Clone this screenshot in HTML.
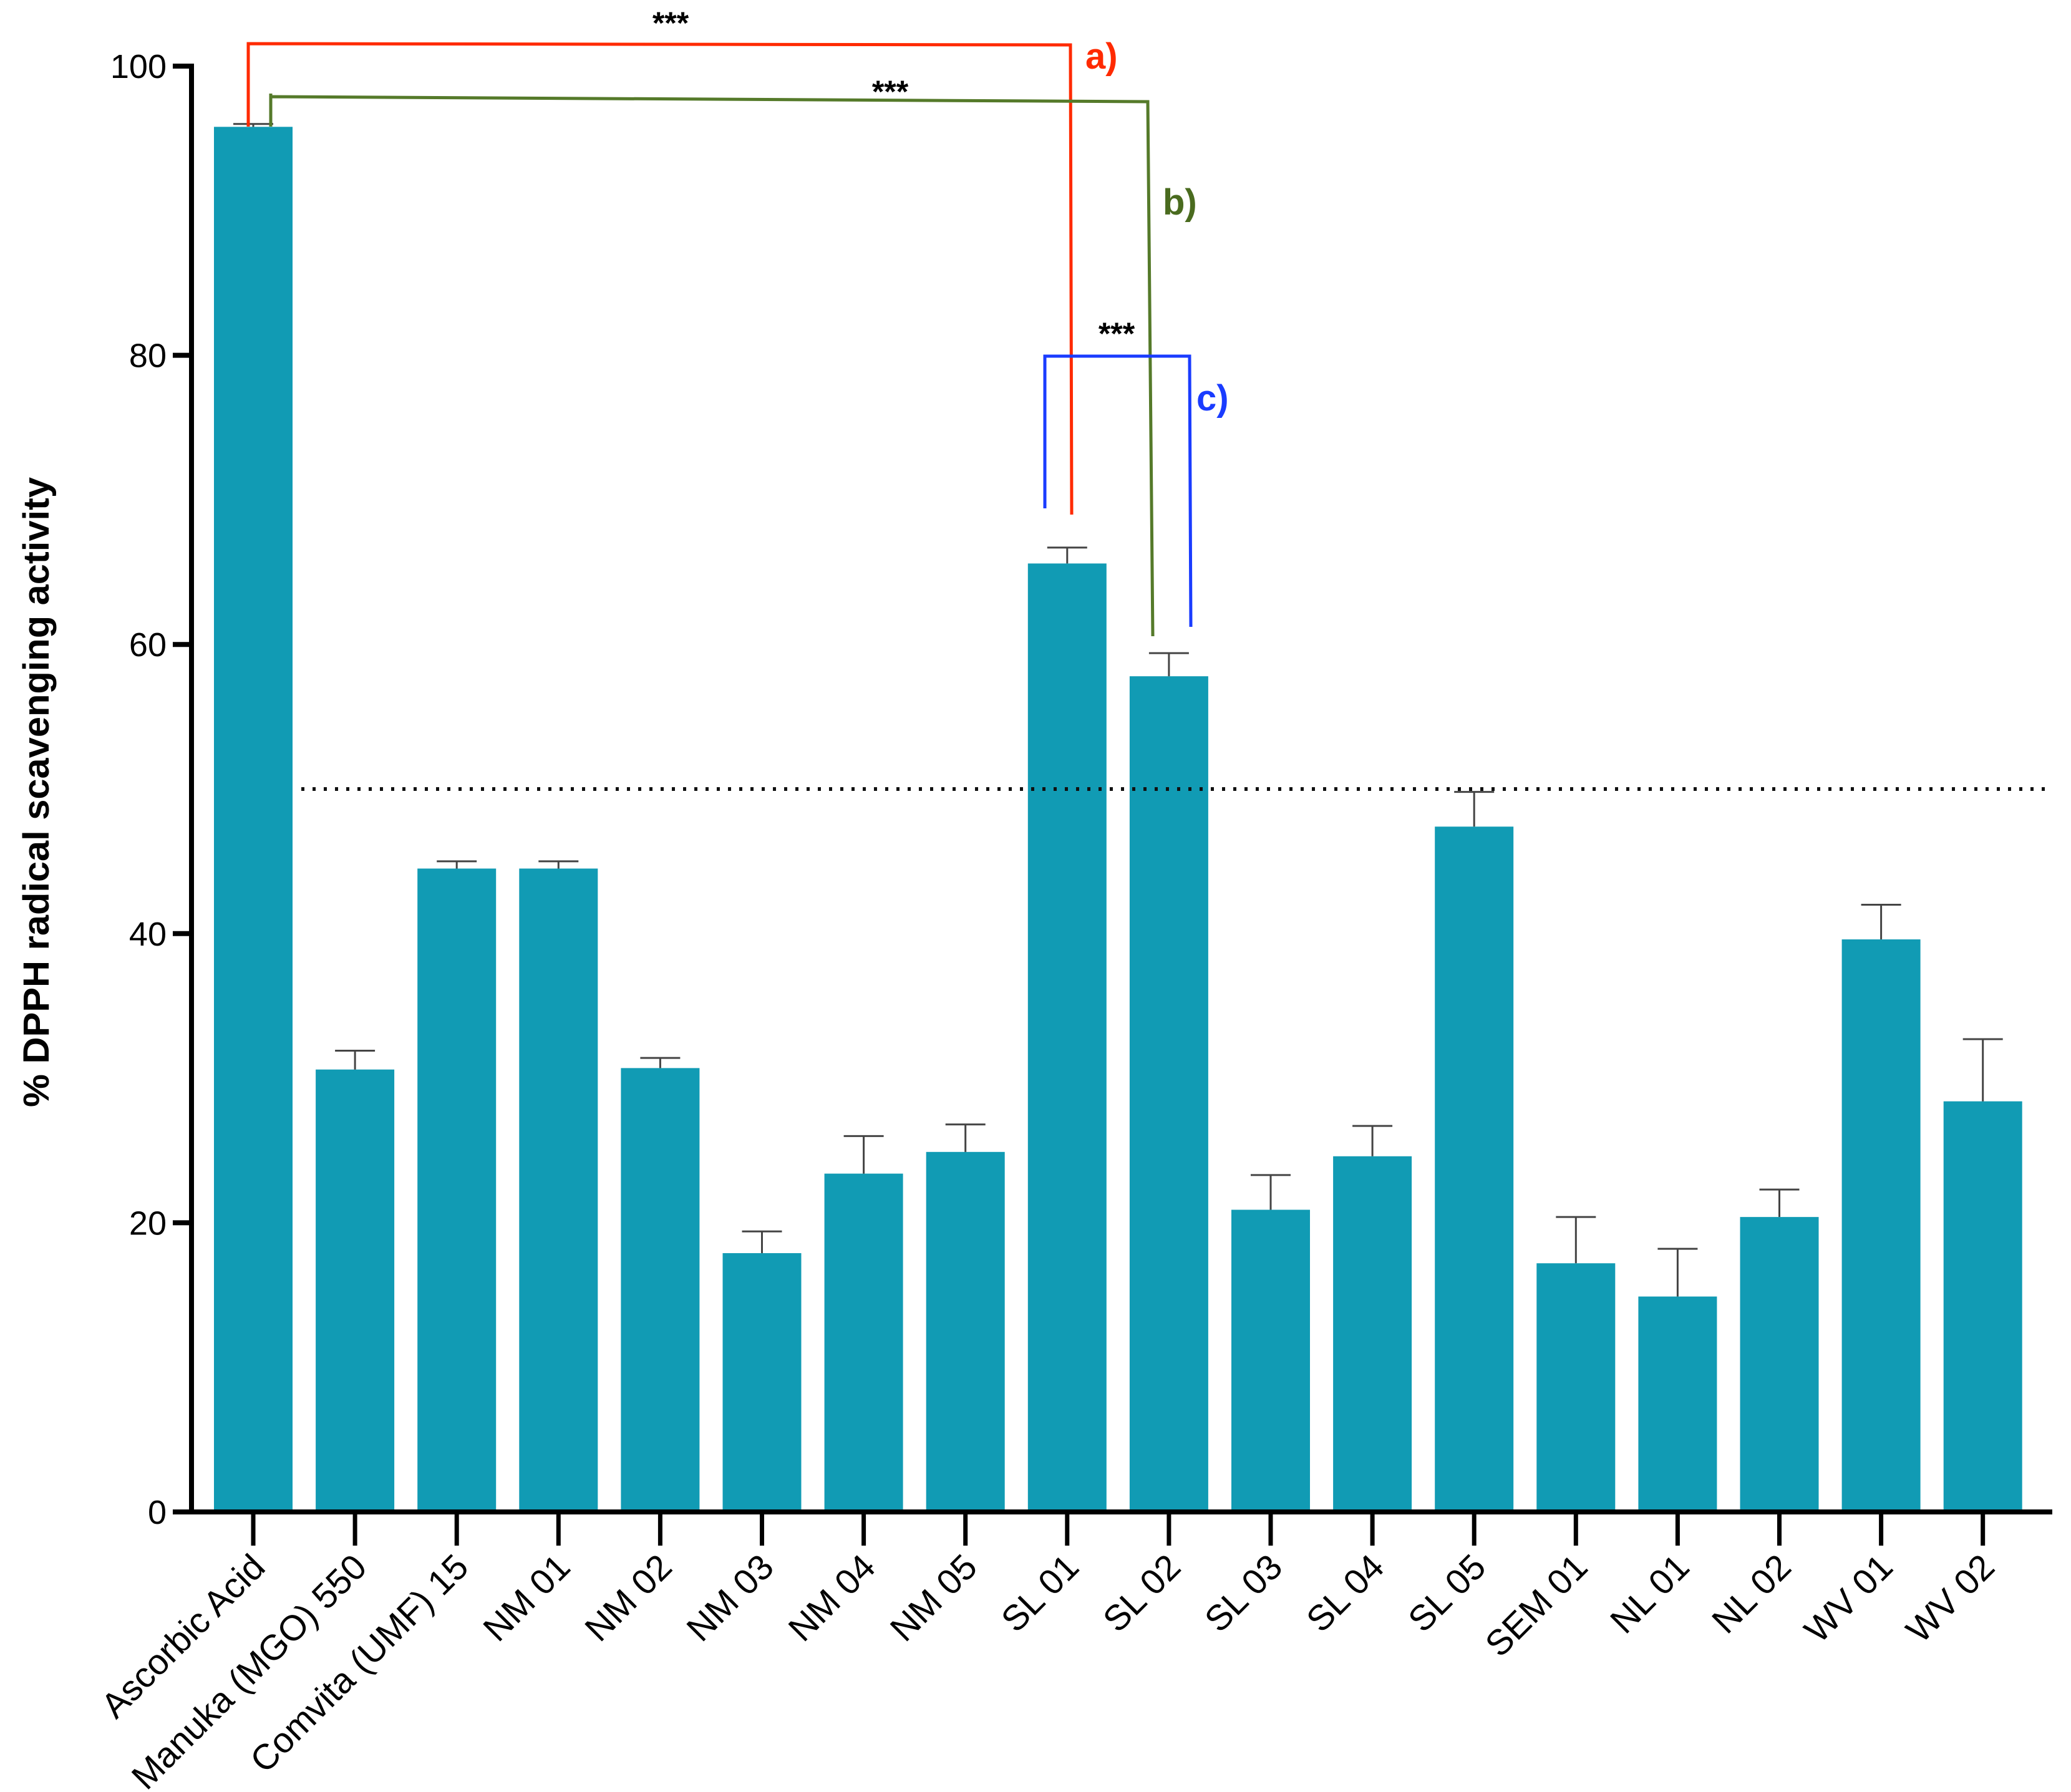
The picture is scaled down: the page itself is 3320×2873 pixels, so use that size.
<!DOCTYPE html>
<html><head><meta charset="utf-8"><style>
html,body{margin:0;padding:0;background:#fff}
svg{display:block}
text{font-family:"Liberation Sans",Arial,sans-serif}
</style></head><body>
<svg id="chart" width="3320" height="2873" viewBox="0 0 3320 2873" xmlns="http://www.w3.org/2000/svg">
<g id="annot">
  <polyline points="398,203 398,70 1716,72 1718,825" fill="none" stroke="#ff2a00" stroke-width="5"/>
  <text x="1075" y="54" font-size="50" font-weight="bold" text-anchor="middle">***</text>
  <text x="1740" y="110" font-size="58" font-weight="bold" fill="#ff2a00">a)</text>
  <polyline points="434,203 434,155 1840,163 1848,1020" fill="none" stroke="#557a2a" stroke-width="5"/>
  <line x1="434" y1="150" x2="434" y2="170" stroke="#557a2a" stroke-width="5"/>
  <text x="1427" y="164" font-size="50" font-weight="bold" text-anchor="middle">***</text>
  <text x="1864" y="344" font-size="58" font-weight="bold" fill="#4a6b1f">b)</text>
  <polyline points="1675,815 1675,571 1907,571 1909,1005" fill="none" stroke="#1a3cff" stroke-width="5"/>
  <text x="1790" y="552" font-size="50" font-weight="bold" text-anchor="middle">***</text>
  <text x="1918" y="658" font-size="58" font-weight="bold" fill="#1a3cff">c)</text>
</g>
</svg>
<script>
const categories = ["Ascorbic Acid","Manuka (MGO) 550","Comvita (UMF) 15","NM 01","NM 02","NM 03","NM 04","NM 05","SL 01","SL 02","SL 03","SL 04","SL 05","SEM 01","NL 01","NL 02","WV 01","WV 02"];
const values = [95.8,30.6,44.5,44.5,30.7,17.9,23.4,24.9,65.6,57.8,20.9,24.6,47.4,17.2,14.9,20.4,39.6,28.4];
const errors = [0.2,1.3,0.5,0.5,0.7,1.5,2.6,1.9,1.1,1.6,2.4,2.1,2.4,3.2,3.3,1.9,2.4,4.3];
const yTicks = [0,20,40,60,80,100];
const threshold = 50;

const NS="http://www.w3.org/2000/svg";
const svg=document.getElementById('chart');
const annot=document.getElementById('annot');
const X0=307, X1=3290, Y0=2424, YTOP=106, PITCH=163.1, FIRST=406, BW=126;
function y(v){return Y0-(v/100)*(Y0-YTOP);}
function x(i){return FIRST+i*PITCH;}
function mk(tag,attrs,parent){const e=document.createElementNS(NS,tag);for(const k in attrs)e.setAttribute(k,attrs[k]);(parent||svg).insertBefore(e,annot);return e;}

categories.forEach((c,i)=>{
  const b=mk('rect',{x:x(i)-BW/2,y:y(values[i]),width:BW,height:Y0-y(values[i]),fill:'#119bb4'});
  
  
  const top=y(values[i]+errors[i]);
  const e=mk('path',{d:`M${x(i)},${y(values[i])} V${top} M${x(i)-32},${top} H${x(i)+32}`,stroke:'#444',"stroke-width":3,fill:'none'});
  
  
});
const th=mk('line',{x1:483,x2:3280,y1:y(threshold),y2:y(threshold),stroke:'#111',"stroke-width":6,"stroke-dasharray":"5 13"});


const ya=mk('line',{x1:X0,x2:X0,y1:YTOP-4,y2:Y0+4,stroke:'#000',"stroke-width":8});


const xa=mk('line',{x1:X0-30,x2:X1,y1:Y0,y2:Y0,stroke:'#000',"stroke-width":8});


yTicks.forEach(t=>{
  const l=mk('line',{x1:X0-30,x2:X0,y1:y(t),y2:y(t),stroke:'#000',"stroke-width":8});
  
  
  const tx=mk('text',{x:X0-40,y:y(t)+19,"font-size":54,"text-anchor":"end"});
  tx.textContent=t;
  
  
});
categories.forEach((c,i)=>{
  const l=mk('line',{x1:x(i),x2:x(i),y1:Y0,y2:Y0+54,stroke:'#000',"stroke-width":7});
  
  
  const tx=mk('text',{x:0,y:0,"font-size":57,"text-anchor":"end",transform:`translate(${x(i)+22},${Y0+92}) rotate(-45)`});
  tx.textContent=c;
  
  
});
const yt=mk('text',{x:0,y:0,"font-size":58,"font-weight":"bold","text-anchor":"middle",transform:"translate(78,1270) rotate(-90)",textLength:1010,lengthAdjust:"spacingAndGlyphs"});
yt.textContent='% DPPH radical scavenging activity';


</script>
</body></html>
